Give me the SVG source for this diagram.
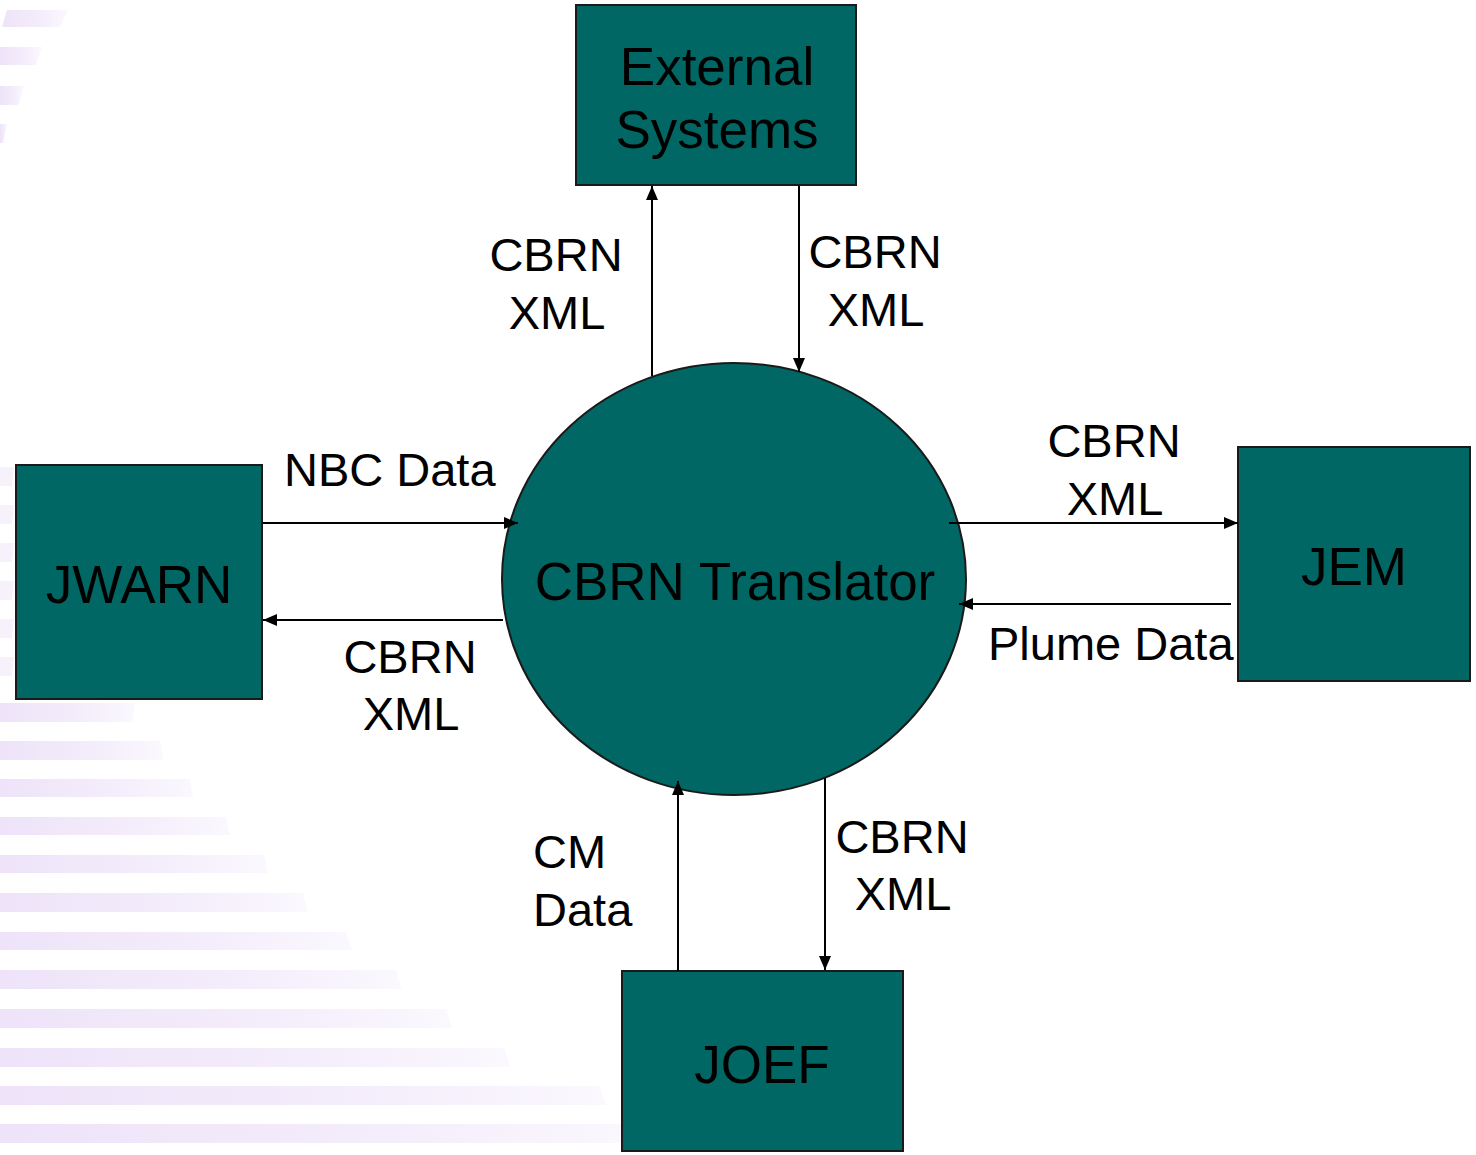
<svg xmlns="http://www.w3.org/2000/svg" width="1476" height="1155" viewBox="0 0 1476 1155">
<defs>
<linearGradient id="stripeGrad" x1="0" y1="0" x2="1" y2="0">
<stop offset="0" stop-color="#eee3f9"/>
<stop offset="0.6" stop-color="#f4edfb"/>
<stop offset="1" stop-color="#fbf8fe"/>
</linearGradient>
<marker id="arr" viewBox="0 0 14 12" refX="14" refY="6" markerWidth="14" markerHeight="12" markerUnits="userSpaceOnUse" orient="auto">
<path d="M0,0 L14,6 L0,12 Z" fill="#000"/>
</marker>
</defs>
<style>
.node{fill:#006764;stroke:#1a1a1a;stroke-width:2}
.ntext{font-family:"Liberation Sans",Arial,sans-serif;font-size:53px;fill:#000;text-anchor:middle}
.lbl{font-family:"Liberation Sans",Arial,sans-serif;font-size:47px;fill:#000}
.mid{text-anchor:middle}
.conn{stroke:#000;stroke-width:2;fill:none;marker-end:url(#arr)}
.stripe{fill:url(#stripeGrad)}
.faint{fill:#f7f1fc}
</style>
<rect width="1476" height="1155" fill="#fff"/>
<g id="background">
<polygon class="stripe" points="7,10 68,10 60,27 2,27"/>
<polygon class="stripe" points="0,47 42,47 36,65 0,65"/>
<polygon class="stripe" points="0,86 24,86 18,105 0,105"/>
<polygon class="stripe" points="0,124 7,124 3,143 0,143"/>
<polygon class="faint" points="0,467 14,467 12,486 0,486"/>
<polygon class="faint" points="0,505 14,505 12,524 0,524"/>
<polygon class="faint" points="0,543 14,543 12,562 0,562"/>
<polygon class="faint" points="0,581 14,581 12,600 0,600"/>
<polygon class="faint" points="0,619 14,619 12,638 0,638"/>
<polygon class="faint" points="0,657 14,657 12,676 0,676"/>
<polygon class="stripe" points="0,703 135,703 132,722 0,722"/>
<polygon class="stripe" points="0,741 160,741 163,760 0,760"/>
<polygon class="stripe" points="0,779 190,779 193,797 0,797"/>
<polygon class="stripe" points="0,817 226,817 230,835 0,835"/>
<polygon class="stripe" points="0,855 264,855 268,873 0,873"/>
<polygon class="stripe" points="0,893 303,893 308,912 0,912"/>
<polygon class="stripe" points="0,932 346,932 352,950 0,950"/>
<polygon class="stripe" points="0,970 396,970 402,989 0,989"/>
<polygon class="stripe" points="0,1009 446,1009 452,1028 0,1028"/>
<polygon class="stripe" points="0,1048 504,1048 510,1067 0,1067"/>
<polygon class="stripe" points="0,1086 600,1086 606,1105 0,1105"/>
<polygon class="stripe" points="0,1124 640,1124 646,1143 0,1143"/>
</g>
<g id="labels">
<text class="lbl mid" x="556" y="271">CBRN</text>
<text class="lbl mid" x="557" y="329">XML</text>
<text class="lbl mid" x="875" y="268">CBRN</text>
<text class="lbl mid" x="876" y="326">XML</text>
<text class="lbl" x="284" y="486">NBC Data</text>
<text class="lbl mid" x="410" y="673">CBRN</text>
<text class="lbl mid" x="411" y="730">XML</text>
<text class="lbl mid" x="1114" y="457">CBRN</text>
<text class="lbl mid" x="1115" y="515">XML</text>
<text class="lbl" x="988" y="660">Plume Data</text>
<text class="lbl" x="533" y="868">CM</text>
<text class="lbl" x="533" y="926">Data</text>
<text class="lbl mid" x="902" y="853">CBRN</text>
<text class="lbl mid" x="903" y="910">XML</text>
</g>
<g id="external-systems">
<rect class="node" x="576" y="5" width="280" height="180"/>
<text class="ntext" x="717" y="85">External</text>
<text class="ntext" x="717" y="148">Systems</text>
</g>
<g id="jwarn">
<rect class="node" x="16" y="465" width="246" height="234"/>
<text class="ntext" x="139" y="603">JWARN</text>
</g>
<g id="cbrn-translator">
<ellipse class="node" cx="734" cy="579" rx="232" ry="216"/>
<text class="ntext" x="735" y="600">CBRN Translator</text>
</g>
<g id="jem">
<rect class="node" x="1238" y="447" width="232" height="234"/>
<text class="ntext" x="1354" y="585">JEM</text>
</g>
<g id="joef">
<rect class="node" x="622" y="971" width="281" height="180"/>
<text class="ntext" x="762" y="1083">JOEF</text>
</g>
<g id="connectors">
<line class="conn" x1="652" y1="376" x2="652" y2="186"/>
<line class="conn" x1="799" y1="186" x2="799" y2="372"/>
<line class="conn" x1="263" y1="523" x2="518" y2="523"/>
<line class="conn" x1="503" y1="620" x2="263" y2="620"/>
<line class="conn" x1="949" y1="523" x2="1238" y2="523"/>
<line class="conn" x1="1231" y1="604" x2="959" y2="604"/>
<line class="conn" x1="678" y1="971" x2="678" y2="781"/>
<line class="conn" x1="825" y1="778" x2="825" y2="970"/>
</g>
</svg>
